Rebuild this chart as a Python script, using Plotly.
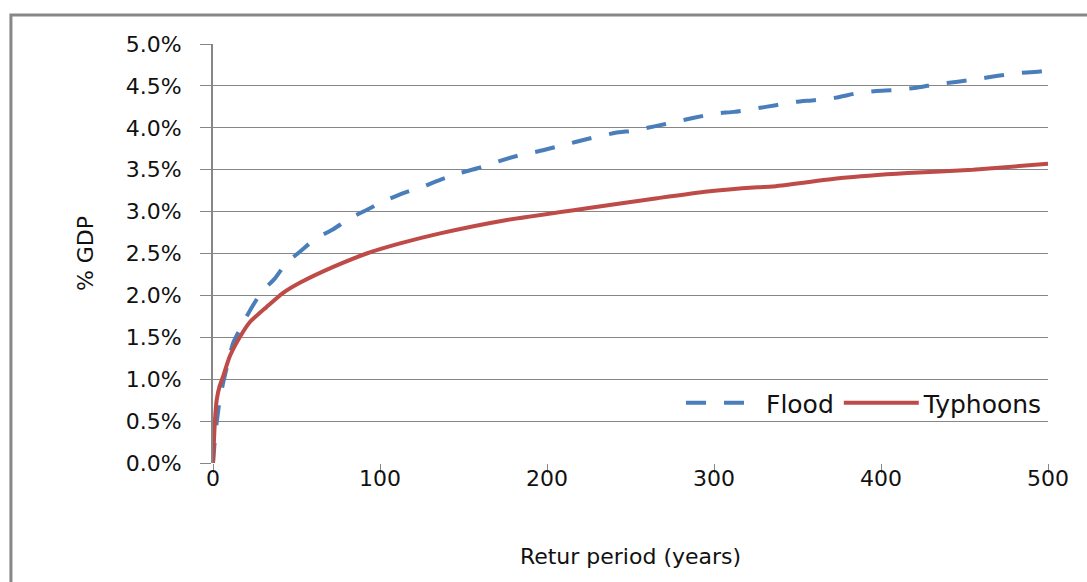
import plotly.graph_objects as go

# Data (return period in years, loss in % of GDP)
flood_x = [0, 1, 2, 4, 6, 9, 12, 18, 23, 29, 37, 44, 52, 61, 72, 82, 92, 103, 114, 126, 136,
           148, 159, 171, 183, 195, 205, 217, 229, 241, 253, 265, 277, 288, 301, 312, 325,
           337, 349, 360, 373, 385, 397, 408, 422, 433, 446, 457, 470, 481, 494, 500]
flood_y = [0.0, 0.25, 0.45, 0.75, 0.95, 1.2, 1.43, 1.67, 1.85, 2.04, 2.2, 2.39, 2.52, 2.67, 2.79,
           2.92, 3.02, 3.13, 3.22, 3.3, 3.38, 3.46, 3.52, 3.6, 3.67, 3.72, 3.77, 3.83, 3.89, 3.94,
           3.97, 4.02, 4.07, 4.12, 4.17, 4.19, 4.23, 4.27, 4.31, 4.33, 4.36, 4.41, 4.44, 4.45,
           4.48, 4.52, 4.55, 4.58, 4.62, 4.65, 4.67, 4.68]

typhoon_x = [0, 1, 2.2, 4, 6, 10, 16, 22, 32, 42, 52, 72, 92, 112, 136, 176, 224, 266, 296,
             326, 335, 376, 416, 455, 500]
typhoon_y = [0.0, 0.45, 0.75, 0.92, 1.03, 1.27, 1.5, 1.68, 1.86, 2.03, 2.15, 2.34, 2.5, 2.62,
             2.74, 2.9, 3.04, 3.16, 3.24, 3.29, 3.3, 3.4, 3.46, 3.5, 3.57]

x_ticks = [0, 100, 200, 300, 400, 500]
y_ticks = [0.0, 0.5, 1.0, 1.5, 2.0, 2.5, 3.0, 3.5, 4.0, 4.5, 5.0]
y_tick_labels = ["0.0%", "0.5%", "1.0%", "1.5%", "2.0%", "2.5%", "3.0%", "3.5%", "4.0%",
                 "4.5%", "5.0%"]

GRID = "#868686"
FONT = "DejaVu Sans"

fig = go.Figure()
fig.add_trace(go.Scatter(
    x=flood_x, y=flood_y, mode="lines", name="Flood",
    line=dict(color="#4A7EBB", width=4, dash="20px,18px", shape="spline", smoothing=0.5),
))
fig.add_trace(go.Scatter(
    x=typhoon_x, y=typhoon_y, mode="lines", name="Typhoons",
    line=dict(color="#BE4B48", width=4, shape="spline", smoothing=0.5),
))

fig.update_layout(
    width=1087, height=582,
    margin=dict(l=213, r=39, t=44, b=119),
    paper_bgcolor="white", plot_bgcolor="white",
    font=dict(family=FONT, size=22, color="#111111"),
    showlegend=True,
    legend=dict(orientation="h", x=1.0, xanchor="right", y=0.143, yanchor="middle",
                bgcolor="rgba(0,0,0,0)", font=dict(size=25), itemwidth=75,
                traceorder="normal"),
    xaxis=dict(
        range=[0, 500], tickvals=x_ticks, ticks="outside", ticklen=9, tickcolor=GRID,
        ticklabelstandoff=-13,
        showgrid=False, showline=False, zeroline=False,
        title=dict(text="Retur period (years)", standoff=58, font=dict(size=22)),
    ),
    yaxis=dict(
        range=[0, 5.0], tickvals=y_ticks, ticktext=y_tick_labels,
        ticks="outside", ticklen=11, tickcolor=GRID, ticklabelstandoff=14,
        showgrid=True, gridcolor=GRID, gridwidth=1.3,
        showline=True, linecolor=GRID, linewidth=2, zeroline=False,
        title=dict(text="% GDP", standoff=26, font=dict(size=22)),
    ),
    shapes=[
        dict(type="rect", xref="paper", yref="paper", x0=-0.242, x1=1.3, y0=-0.6, y1=1.069,
             line=dict(color="#878787", width=3), fillcolor="rgba(0,0,0,0)", layer="below"),
    ],
)

fig.write_html("out.html")
